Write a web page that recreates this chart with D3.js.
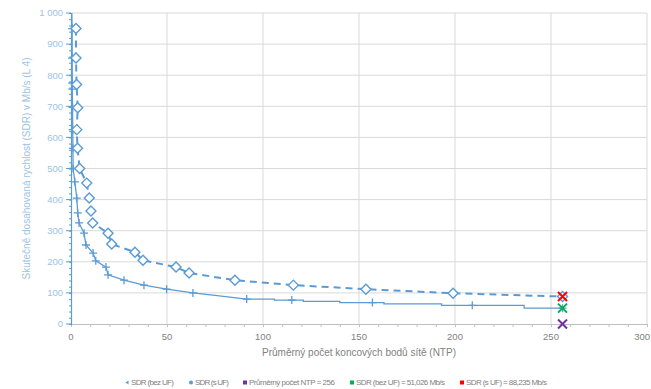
<!DOCTYPE html>
<html><head><meta charset="utf-8">
<script src="https://cdn.jsdelivr.net/npm/d3@7"></script>
<style>body{margin:0;background:#fff}svg{display:block}</style>
</head><body>
<script>
// ---- data ----
const xTicks = [0, 50, 100, 150, 200, 250, 300];
const yTicks = [0, 100, 200, 300, 400, 500, 600, 700, 800, 900, 1000];
// SDR (bez UF) – markers (+)
const bezMarkers = [[0.6,950],[0.6,855],[0.7,775],[0.7,755],[0.8,697],[0.9,625],[1,565],[1.1,500],
  [2,457],[3,405],[3.5,357],[4.2,325],[6.8,292],[7.8,254],[11.5,228],[12.9,203],[18.2,183],[19.3,158],
  [27.6,141],[38,125],[49.8,112],[63.5,100],[91.5,80],[115,77],[157,69],[209,60],[256,51.026]];
// SDR (bez UF) – line vertices (stepped tail)
const bezLine = [[0.4,1000],[0.6,950],[0.6,855],[0.7,775],[0.7,755],[0.8,697],[0.9,625],[1,565],[1.1,500],
  [2,457],[3,405],[3.5,357],[4.2,325],[6.8,292],[7.8,254],[11.5,228],[12.9,203],[18.2,183],[19.3,158],
  [27.6,141],[38,125],[49.8,112],[63.5,100],[75,92],[91.5,80],[106,80],[106,77],[121,77],[121,73],
  [140,73],[140,69],[163,69],[163,65],[193,65],[193,60],[236,60],[236,51.026],[256,51.026]];
// SDR (s UF) – diamonds + dashed line
const sMarkers = [[2.6,950],[2.6,855],[2.9,770],[3.5,695],[3,625],[3.4,565],[4.5,500],[8.2,453],[9.5,405],
  [10.4,363],[11.3,325],[19.3,292],[21.2,257],[33.3,231],[37.5,205],[54.7,183],[61.5,164],[85.4,141],
  [115.8,125],[153.6,112],[199,99],[256,88.235]];
const ntpPoint = [256, 0];
const bezPoint = [256, 51.026];
const sPoint = [256, 88.235];
const legendLabels = ["SDR (bez UF)", "SDR (s UF)", "Průměrný počet NTP = 256", "SDR (bez UF) = 51,026 Mb/s", "SDR (s UF) = 88,235 Mb/s"];

// ---- layout ----
const W = 651, H = 389;
const blue = "#5b9bd5";
const svg = d3.select("body").append("svg").attr("width", W).attr("height", H)
  .style("font-family", "'Liberation Sans', Arial, sans-serif");
const x = d3.scaleLinear().domain([0, 300]).range([71, 647]);
const y = d3.scaleLinear().domain([0, 1000]).range([324, 13]);

// grid
svg.append("g").selectAll("line").data(yTicks.slice(1)).join("line")
  .attr("x1", x(0)).attr("x2", x(300)).attr("y1", d => y(d)).attr("y2", d => y(d))
  .attr("stroke", "#d9d9d9").attr("stroke-width", 1);
svg.append("g").selectAll("line").data(xTicks.slice(1)).join("line")
  .attr("x1", d => x(d)).attr("x2", d => x(d)).attr("y1", y(0)).attr("y2", y(1000))
  .attr("stroke", "#d9d9d9").attr("stroke-width", 1);

// x axis
const xAxis = svg.append("g").attr("transform", `translate(0,${y(0)})`)
  .call(d3.axisBottom(x).tickValues(d3.range(0, 301, 10)).tickSize(3).tickFormat(""));
xAxis.select(".domain").attr("stroke", "#bfbfbf");
xAxis.selectAll(".tick line").attr("stroke", "#bfbfbf");
svg.append("g").selectAll("text").data(xTicks).join("text")
  .attr("x", d => d === 300 ? 650 : x(d)).attr("y", y(0) + 16)
  .attr("text-anchor", d => d === 300 ? "end" : "middle")
  .attr("font-size", 9.5).attr("fill", "#7f7f7f").text(d => d);

// y axis
const yAxis = svg.append("g").attr("transform", `translate(${x(0)},0)`)
  .call(d3.axisLeft(y).tickValues(d3.range(0, 1001, 20)).tickSize(2).tickFormat(""));
yAxis.select(".domain").attr("stroke", blue).attr("stroke-width", 1.2);
yAxis.selectAll(".tick line").attr("stroke", blue);
svg.append("g").selectAll("line").data(yTicks).join("line")
  .attr("x1", x(0) - 5).attr("x2", x(0)).attr("y1", d => y(d)).attr("y2", d => y(d)).attr("stroke", blue);
const fmt = d => d >= 1000 ? d3.format(",")(d).replace(",", " ") : String(d);
svg.append("g").selectAll("text").data(yTicks).join("text")
  .attr("x", x(0) - 8).attr("y", d => y(d) + 3.3).attr("text-anchor", "end")
  .attr("font-size", 9.5).attr("fill", "#9dc3e6").text(fmt);

// titles
svg.append("text").attr("x", (x(0) + x(300)) / 2).attr("y", 356).attr("text-anchor", "middle")
  .attr("font-size", 10).attr("fill", "#7f7f7f").text("Průměrný počet koncových bodů sítě (NTP)");
svg.append("text").attr("transform", `translate(30,${(y(0) + y(1000)) / 2}) rotate(-90)`)
  .attr("text-anchor", "middle").attr("font-size", 10).attr("fill", "#9dc3e6")
  .text("Skutečně dosahovaná rychlost (SDR) v Mb/s (L 4)");

// series lines
const line = d3.line().x(d => x(d[0])).y(d => y(d[1]));
svg.append("path").attr("d", line(sMarkers)).attr("fill", "none").attr("stroke", blue)
  .attr("stroke-width", 2).attr("stroke-dasharray", "7,5");
svg.append("path").attr("d", line(bezLine)).attr("fill", "none").attr("stroke", blue).attr("stroke-width", 1.3);

// markers
svg.append("g").selectAll("path").data(bezMarkers).join("path")
  .attr("transform", d => `translate(${x(d[0])},${y(d[1])})`)
  .attr("d", "M-4,0H4M0,-4V4").attr("stroke", blue).attr("stroke-width", 1.3).attr("fill", "none");
svg.append("g").selectAll("path").data(sMarkers).join("path")
  .attr("transform", d => `translate(${x(d[0])},${y(d[1])})`)
  .attr("d", "M-5,0L0,-5L5,0L0,5Z").attr("stroke", blue).attr("stroke-width", 1.4).attr("fill", "#fff");

// X markers
const xm = (pt, col) => svg.append("path").attr("transform", `translate(${x(pt[0])},${y(pt[1])})`)
  .attr("d", "M-4.5,-4.5L4.5,4.5M-4.5,4.5L4.5,-4.5").attr("stroke", col).attr("stroke-width", 2).attr("fill", "none");
xm(ntpPoint, "#7030a0");
xm(bezPoint, "#00b050");
xm(sPoint, "#ff0000");

// legend
const legX = [127, 191, 245, 352, 462];
const legW = [43, 34, 86, 89, 81];
const legCols = [blue, blue, "#7030a0", "#00b050", "#ff0000"];
const lg = svg.append("g").attr("font-size", 8).attr("fill", "#7f7f7f");
legendLabels.forEach((t, i) => {
  const cx = legX[i], cy = 382.5;
  if (i === 0) lg.append("path").attr("d", `M${cx+1.5},${cy-2}L${cx-1.5},${cy}L${cx+1.5},${cy+2}Z`).attr("fill", legCols[i]);
  else if (i === 1) lg.append("circle").attr("cx", cx).attr("cy", cy).attr("r", 2).attr("fill", legCols[i]);
  else lg.append("rect").attr("x", cx - 2).attr("y", cy - 2).attr("width", 4).attr("height", 4).attr("fill", legCols[i]);
  lg.append("text").attr("x", cx + 4).attr("y", cy + 2.7)
    .attr("textLength", legW[i]).attr("lengthAdjust", "spacing").text(t);
});
</script>
</body></html>
